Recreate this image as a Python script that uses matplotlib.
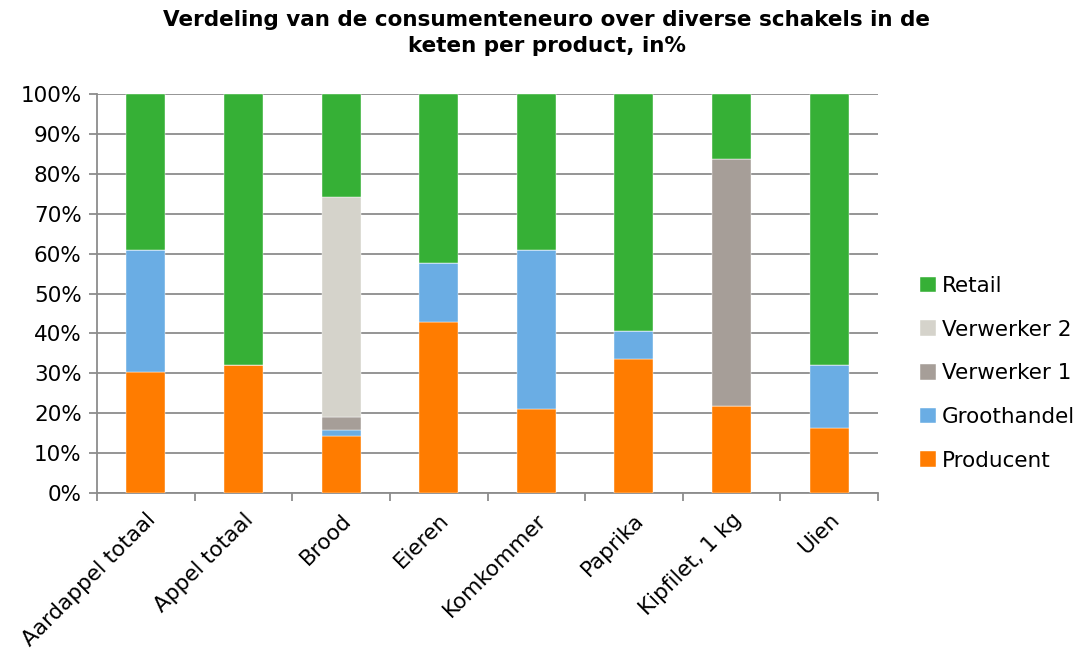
import numpy as np
import matplotlib
matplotlib.use('Agg')
import matplotlib.pyplot as plt
from matplotlib.ticker import FixedLocator, NullFormatter

products = ["Aardappel totaal", "Appel totaal", "Brood", "Eieren",
            "Komkommer", "Paprika", "Kipfilet, 1 kg", "Uien"]
producent = [30.3, 32.0, 14.2, 42.8, 21.0, 33.6, 21.7, 16.4]
groothandel = [30.5, 0.0, 1.5, 14.9, 39.8, 7.1, 0.0, 15.6]
verwerker1 = [0.0, 0.0, 3.3, 0.0, 0.0, 0.0, 61.9, 0.0]
verwerker2 = [0.0, 0.0, 55.25, 0.0, 0.0, 0.0, 0.0, 0.0]
retail = [39.2, 68.0, 25.75, 42.3, 39.2, 59.3, 16.4, 68.0]

series = [("Producent", producent, "#FF7C00"),
          ("Groothandel", groothandel, "#6AADE4"),
          ("Verwerker 1", verwerker1, "#A69E98"),
          ("Verwerker 2", verwerker2, "#D5D3CB"),
          ("Retail", retail, "#36B036")]

fig = plt.figure(figsize=(10.78, 6.55), dpi=100)
ax = fig.add_axes([0.0900, 0.2473, 0.7245, 0.6092])

x = np.arange(len(products))
bottom = np.zeros(len(products))
for name, vals, col in series:
    vals = np.array(vals)
    ax.bar(x, vals, 0.4, bottom=bottom, color=col, label=name,
           edgecolor="white", linewidth=0.3, zorder=3)
    bottom += vals

ax.set_xlim(-0.5, len(products) - 0.5)
ax.set_ylim(0, 100)
ax.set_yticks(np.arange(0, 101, 10))
ax.set_yticklabels([f"{v}%" for v in range(0, 101, 10)], fontsize=15.5)
ax.yaxis.grid(True, color="#8C8C8C", linewidth=1.3, zorder=0)
ax.set_axisbelow(True)

# category labels at bar centres, tick marks at category boundaries
ax.set_xticks(x)
ax.set_xticklabels(products, rotation=45, ha="right", rotation_mode="anchor",
                   fontsize=15.5)
ax.tick_params(axis="x", which="major", length=0, pad=12)
ax.xaxis.set_minor_locator(FixedLocator(np.arange(-0.5, len(products), 1)))
ax.xaxis.set_minor_formatter(NullFormatter())
ax.tick_params(axis="x", which="minor", length=6, width=1.3, color="#8C8C8C")
ax.tick_params(axis="y", length=6, width=1.3, color="#8C8C8C", pad=5)

for s in ["top", "right"]:
    ax.spines[s].set_visible(False)
for s in ["left", "bottom"]:
    ax.spines[s].set_color("#8C8C8C")
    ax.spines[s].set_linewidth(1.3)

handles, labels = ax.get_legend_handles_labels()
fig.legend(handles[::-1], labels[::-1], loc="center left",
           bbox_to_anchor=(0.853, 0.43), frameon=False, fontsize=15.5,
           handlelength=0.75, handleheight=0.75, handletextpad=0.3,
           labelspacing=1.1, borderaxespad=0, borderpad=0)

fig.suptitle("Verdeling van de consumenteneuro over diverse schakels in de\nketen per product, in%",
             fontsize=15.5, fontweight="bold", x=0.507, y=0.985, linespacing=1.4)

fig.savefig("out.png", dpi=100)
